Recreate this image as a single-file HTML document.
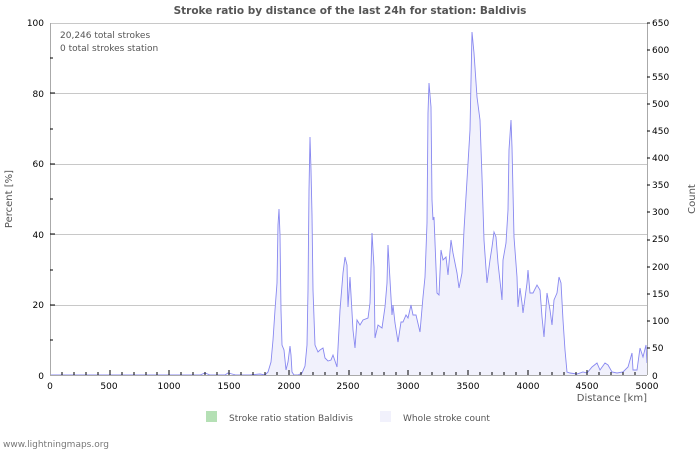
<!DOCTYPE html>
<html><head><meta charset="utf-8"><style>
body{margin:0;background:#fff;}
svg{display:block;font-family:"DejaVu Sans","Liberation Sans",sans-serif;}
</style></head><body>
<svg width="700" height="450" viewBox="0 0 700 450">
<rect width="700" height="450" fill="#fff"/>
<text x="350" y="14" text-anchor="middle" font-size="10.5" font-weight="bold" fill="#555">Stroke ratio by distance of the last 24h for station: Baldivis</text>
<g stroke="#c8c8c8" stroke-width="1">
<line x1="50" y1="23.5" x2="647" y2="23.5"/>
<line x1="50" y1="93.5" x2="647" y2="93.5"/>
<line x1="50" y1="164.5" x2="647" y2="164.5"/>
<line x1="50" y1="234.5" x2="647" y2="234.5"/>
<line x1="50" y1="305.5" x2="647" y2="305.5"/>
</g>
<polygon fill="#f1f1fc" stroke="none" points="50,375 242,375 250,375 260,374 265,375 268,372 271,362 273,340 275,310 277,283 278,225 279,209 280,235 281,310 282,345 284,350 285,360 286,370 288,362 290,346 291,355 292,372 294,375 298,375 302,373 305,366 307,345 308,290 309,190 310,137 311,170 312,215 313,290 315,345 318,352 320,350 323,348 325,358 328,361 331,360 333,355 337,367 340,310 343,273 345,257 347,265 348,307 350,277 353,330 355,348 357,320 360,325 363,320 368,318 370,303 372,233 374,267 375,338 378,325 382,328 385,307 387,283 388,245 390,280 392,315 393,305 395,323 398,342 401,322 403,322 406,315 408,318 411,305 413,315 416,315 420,332 423,297 425,277 427,223 428,113 429,83 431,107 432,200 433,220 434,217 437,293 439,295 441,250 443,260 446,257 448,275 451,240 453,253 457,273 459,288 462,273 464,230 467,180 470,130 472,32 474,53 477,97 480,120 482,177 484,240 487,283 490,260 492,247 494,232 496,237 498,263 501,290 502,300 503,260 506,243 508,210 509,150 511,120 512,147 514,237 517,277 518,307 520,288 522,303 523,313 527,283 528,270 530,293 533,293 537,285 540,290 542,317 544,337 547,293 550,310 552,325 554,300 557,293 559,277 561,283 563,320 565,350 567,372 570,373 577,374 583,372 587,373 592,367 597,363 600,370 605,363 608,365 612,372 617,373 623,372 628,367 632,353 633,370 637,370 640,348 643,357 646,345 647,363 647,375"/>
<polyline fill="none" stroke="#8888f0" stroke-width="0.9" points="50,375 200,375 205,373 210,375 225,375 228,373 232,374 236,375 242,375 250,375 260,374 265,375 268,372 271,362 273,340 275,310 277,283 278,225 279,209 280,235 281,310 282,345 284,350 285,360 286,370 288,362 290,346 291,355 292,372 294,375 298,375 302,373 305,366 307,345 308,290 309,190 310,137 311,170 312,215 313,290 315,345 318,352 320,350 323,348 325,358 328,361 331,360 333,355 337,367 340,310 343,273 345,257 347,265 348,307 350,277 353,330 355,348 357,320 360,325 363,320 368,318 370,303 372,233 374,267 375,338 378,325 382,328 385,307 387,283 388,245 390,280 392,315 393,305 395,323 398,342 401,322 403,322 406,315 408,318 411,305 413,315 416,315 420,332 423,297 425,277 427,223 428,113 429,83 431,107 432,200 433,220 434,217 437,293 439,295 441,250 443,260 446,257 448,275 451,240 453,253 457,273 459,288 462,273 464,230 467,180 470,130 472,32 474,53 477,97 480,120 482,177 484,240 487,283 490,260 492,247 494,232 496,237 498,263 501,290 502,300 503,260 506,243 508,210 509,150 511,120 512,147 514,237 517,277 518,307 520,288 522,303 523,313 527,283 528,270 530,293 533,293 537,285 540,290 542,317 544,337 547,293 550,310 552,325 554,300 557,293 559,277 561,283 563,320 565,350 567,372 570,373 577,374 583,372 587,373 592,367 597,363 600,370 605,363 608,365 612,372 617,373 623,372 628,367 632,353 633,370 637,370 640,348 643,357 646,345 647,363"/>
<g stroke="#aaa" stroke-width="1">
<line x1="50.5" y1="23" x2="50.5" y2="375"/>
<line x1="50" y1="375.5" x2="647" y2="375.5"/>
<line x1="647.5" y1="23" x2="647.5" y2="375"/>
</g>
<g font-size="9" fill="#000" text-anchor="end">
<text x="44" y="26">100</text><text x="44" y="97">80</text><text x="44" y="167">60</text><text x="44" y="238">40</text><text x="44" y="308">20</text><text x="44" y="379">0</text>
</g>
<g font-size="9" fill="#000" text-anchor="middle">
<text x="50" y="389">0</text><text x="109" y="389">500</text><text x="169" y="389">1000</text><text x="229" y="389">1500</text><text x="289" y="389">2000</text><text x="348" y="389">2500</text><text x="408" y="389">3000</text><text x="468" y="389">3500</text><text x="528" y="389">4000</text><text x="587" y="389">4500</text><text x="647" y="389">5000</text>
</g>
<g font-size="9" fill="#000">
<text x="652" y="26">650</text><text x="652" y="53">600</text><text x="652" y="80">550</text><text x="652" y="107">500</text><text x="652" y="134">450</text><text x="652" y="161">400</text><text x="652" y="188">350</text><text x="652" y="215">300</text><text x="652" y="242">250</text><text x="652" y="270">200</text><text x="652" y="297">150</text><text x="652" y="324">100</text><text x="652" y="351">50</text><text x="652" y="379">0</text>
</g>
<text x="60" y="38" font-size="9" fill="#555">20,246 total strokes</text>
<text x="60" y="51" font-size="9" fill="#555">0 total strokes station</text>
<text x="12" y="199" font-size="10" fill="#555" text-anchor="middle" transform="rotate(-90 12 199)">Percent   [%]</text>
<text x="695" y="199" font-size="10" fill="#555" text-anchor="middle" transform="rotate(-90 695 199)">Count</text>
<text x="647" y="401" font-size="10" fill="#555" text-anchor="end">Distance   [km]</text>
<rect x="206" y="411" width="11" height="11" fill="#b5e0b5"/>
<text x="229" y="421" font-size="9" fill="#555">Stroke ratio station Baldivis</text>
<rect x="380" y="411" width="11" height="11" fill="#f1f1fc"/>
<text x="403" y="421" font-size="9" fill="#555">Whole stroke count</text>
<text x="3" y="447" font-size="9" fill="#777">www.lightningmaps.org</text>
<path stroke="#000" stroke-width="1" fill="none" d="
M62,375v-3M74,375v-3M86,375v-3M98,375v-3M110,375v-5M122,375v-3M134,375v-3M146,375v-3M157,375v-3M169,375v-5M181,375v-3M193,375v-3M205,375v-3M217,375v-3M229,375v-5M241,375v-3M253,375v-3M265,375v-3M277,375v-3M289,375v-5M301,375v-3M313,375v-3M325,375v-3M337,375v-3M349,375v-5M361,375v-3M372,375v-3M384,375v-3M396,375v-3M408,375v-5M420,375v-3M432,375v-3M444,375v-3M456,375v-3M468,375v-5M480,375v-3M492,375v-3M504,375v-3M516,375v-3M528,375v-5M540,375v-3M552,375v-3M564,375v-3M576,375v-3M587,375v-5M599,375v-3M611,375v-3M623,375v-3M635,375v-3
M50,58h3M50,93h5M50,129h3M50,164h5M50,199h3M50,234h5M50,270h3M50,305h5M50,340h3
M647,23h3M647,50h3M647,77h3M647,104h3M647,131h3M647,158h3M647,185h3M647,212h3M647,240h3M647,267h3M647,294h3M647,321h3M647,348h3"/>
</svg>
</body></html>
